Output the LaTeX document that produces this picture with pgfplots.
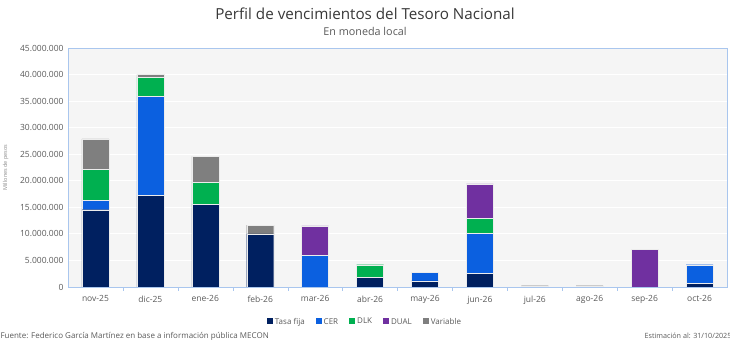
\documentclass[border=0pt]{standalone}
\usepackage{pgfplots}
\pgfplotsset{compat=1.18}
\usepackage{pgfplotstable}
\usepackage{fontspec}
\setmainfont{Open Sans}
\definecolor{tf}{HTML}{002060}
\definecolor{cer}{HTML}{0B60E0}
\definecolor{dlk}{HTML}{00B050}
\definecolor{dual}{HTML}{7030A0}
\definecolor{var}{HTML}{7F7F7F}
\definecolor{axblue}{HTML}{A9C6EE}
\definecolor{txt}{HTML}{595959}
\definecolor{bg}{HTML}{F5F5F5}
\pgfplotstableread{
x TF CER DLK DUAL VAR
0 14.55 1.75 5.8 0 5.8
1 17.2 18.65 3.65 0 0.5
2 15.6 0 4.1 0 4.9
3 10.0 0 0 0 1.65
4 0 5.96 0 5.54 0
5 1.82 0 2.38 0 0
6 1.13 1.69 0 0 0
7 2.63 7.47 2.8 6.5 0
8 0 0 0 0 0.25
9 0 0 0 0 0.25
10 0 0 0 7.15 0
11 0.7 3.5 0 0 0
}\data
\begin{document}
\begin{tikzpicture}[x=1pt,y=1pt]
\path[use as bounding box] (0,0) rectangle (730,344);
\node[text=black!78, font=\fontsize{15.2}{17}\selectfont] at (365,330) {Perfil de vencimientos del Tesoro Nacional};
\node[text=txt, font=\fontsize{10.8}{12}\selectfont] at (365,313) {En moneda local};
\begin{axis}[
  at={(68pt,57pt)}, anchor=south west,
  scale only axis, width=659pt, height=239pt,
  ybar stacked, bar width=27pt,
  xmin=-0.5, xmax=11.5, ymin=0, ymax=45,
  xtick={0,...,11},
  xticklabels={nov-25,dic-25,ene-26,feb-26,mar-26,abr-26,may-26,jun-26,jul-26,ago-26,sep-26,oct-26},
  minor xtick={0.5,1.5,...,10.5},
  xtick pos=lower, ytick pos=left,
  ytick={0,5,...,45},
  yticklabels={0,5.000.000,10.000.000,15.000.000,20.000.000,25.000.000,30.000.000,35.000.000,40.000.000,45.000.000},
  major x tick style={draw=none},
  minor x tick style={draw=axblue},
  minor tick length=4pt,
  xtick align=outside,
  major y tick style={draw=none},
  ymajorgrids, major grid style={draw=white, line width=0.8pt},
  axis background/.style={fill=bg},
  axis line style={draw=axblue},
  tick label style={text=txt, font=\fontsize{8.5}{10}\selectfont},
  xticklabel style={yshift=-1pt},
  yticklabel style={xshift=-1pt},
  ylabel={Millones de pesos},
  ylabel style={text=txt!70, font=\fontsize{5.5}{6}\selectfont, at={(-56pt,0.5)}},
  every axis plot/.append style={draw=white!85!gray, line width=0.3pt},
  legend columns=5,
  legend style={at={(0.4507,-0.146)}, anchor=center, draw=none, fill=none,
    font=\fontsize{8}{9}\selectfont, text=txt,
    /tikz/every even column/.append style={column sep=9pt}},
  legend image code/.code={\fill[#1,draw=none] (0pt,-2.6pt) rectangle (6pt,3.4pt);},
]
\addplot[fill=tf] table[x=x,y=TF]{\data};
\addplot[fill=cer] table[x=x,y=CER]{\data};
\addplot[fill=dlk] table[x=x,y=DLK]{\data};
\addplot[fill=dual] table[x=x,y=DUAL]{\data};
\addplot[fill=var] table[x=x,y=VAR]{\data};
\legend{Tasa fija,CER,DLK,DUAL,Variable}
\end{axis}
\node[anchor=west, text=txt, font=\fontsize{8}{9}\selectfont] at (-3,8) {Fuente: Federico García Martínez en base a información pública MECON};
\node[anchor=east, text=txt, font=\fontsize{7.2}{9}\selectfont] at (735,8) {Estimación al: 31/10/2025};
\end{tikzpicture}
\end{document}
